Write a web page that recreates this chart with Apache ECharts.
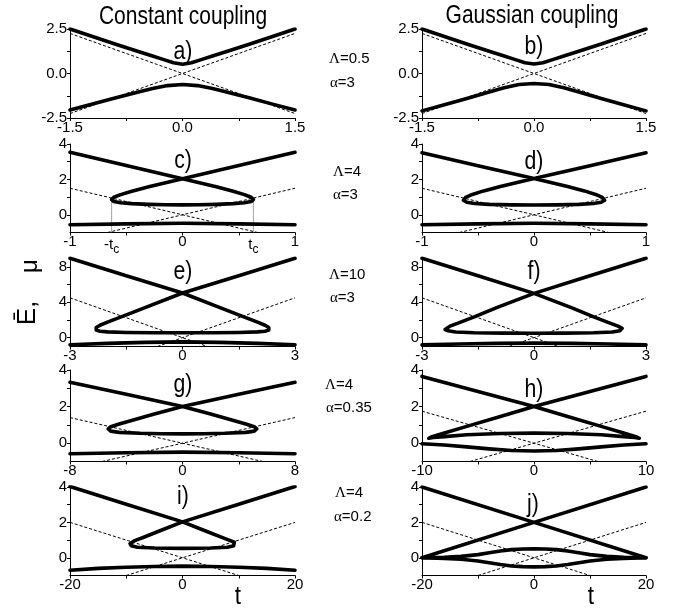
<!DOCTYPE html>
<html>
<head>
<meta charset="utf-8">
<script src="https://cdn.jsdelivr.net/npm/echarts@6/dist/echarts.min.js"></script>
<style>html,body{margin:0;background:#fff}#main{width:678px;height:612px}</style>
</head>
<body>
<div id="main"></div>
<script>
// panel a) / b): Lambda=0.5, alpha=3
var upperA = [[-1.5,2.5],[-1.2,2.08],[-0.9,1.66],[-0.6,1.25],[-0.4,0.98],[-0.25,0.78],[-0.12,0.6],[0,0.52],[0.12,0.6],[0.25,0.78],[0.4,0.98],[0.6,1.25],[0.9,1.66],[1.2,2.08],[1.5,2.5]];
var lowerA = [[-1.5,-2.05],[-1.2,-1.72],[-0.9,-1.38],[-0.6,-1.05],[-0.4,-0.84],[-0.2,-0.68],[0,-0.62],[0.2,-0.68],[0.4,-0.84],[0.6,-1.05],[0.9,-1.38],[1.2,-1.72],[1.5,-2.05]];
var upperB = [[-1.5,2.5],[-1.2,2.08],[-0.9,1.66],[-0.6,1.25],[-0.4,0.98],[-0.25,0.78],[-0.12,0.6],[0,0.53],[0.12,0.6],[0.25,0.78],[0.4,0.98],[0.6,1.25],[0.9,1.66],[1.2,2.08],[1.5,2.5]];
var lowerB = [[-1.5,-2.1],[-1.2,-1.76],[-0.9,-1.4],[-0.6,-1.04],[-0.4,-0.8],[-0.2,-0.62],[0,-0.56],[0.2,-0.62],[0.4,-0.8],[0.6,-1.04],[0.9,-1.4],[1.2,-1.76],[1.5,-2.1]];

// panel c) / d): Lambda=4, alpha=3
var loopC = [[-1,3.53],[-0.5,2.78],[0,2.03],[0.3,1.58],[0.45,1.33],[0.55,1.14],[0.61,0.99],[0.63,0.86],[0.61,0.75],[0.55,0.68],[0.45,0.63],[0.3,0.59],[0.15,0.57],[0,0.56],[-0.15,0.57],[-0.3,0.59],[-0.45,0.63],[-0.55,0.68],[-0.61,0.75],[-0.63,0.86],[-0.61,0.99],[-0.55,1.14],[-0.45,1.33],[-0.3,1.58],[0,2.03],[0.5,2.78],[1,3.53]];
var bottomC = [[-1,-0.56],[-0.5,-0.51],[0,-0.48],[0.5,-0.51],[1,-0.56]];
var tcLinesC = [[[-0.63,0.86],[-0.63,-1]],[[0.63,0.86],[0.63,-1]]];
var loopD = [[-1,3.5],[-0.5,2.77],[0,2.05],[0.3,1.6],[0.45,1.35],[0.55,1.15],[0.61,0.98],[0.63,0.82],[0.6,0.71],[0.53,0.64],[0.4,0.59],[0.2,0.56],[0,0.55],[-0.2,0.56],[-0.4,0.59],[-0.53,0.64],[-0.6,0.71],[-0.63,0.82],[-0.61,0.98],[-0.55,1.15],[-0.45,1.35],[-0.3,1.6],[0,2.05],[0.5,2.77],[1,3.5]];
var bottomD = [[-1,-0.56],[-0.5,-0.51],[0,-0.48],[0.5,-0.51],[1,-0.56]];

// panel e) / f): Lambda=10, alpha=3
var loopE = [[-3,8.97],[-1.5,7.0],[0,5.05],[1,3.4],[1.6,2.4],[2.0,1.75],[2.2,1.4],[2.3,1.15],[2.33,1.0],[2.3,0.85],[2.2,0.73],[2.0,0.65],[1.5,0.59],[0.8,0.56],[0,0.55],[-0.8,0.56],[-1.5,0.59],[-2.0,0.65],[-2.2,0.73],[-2.3,0.85],[-2.33,1.0],[-2.3,1.15],[-2.2,1.4],[-2.0,1.75],[-1.6,2.4],[-1,3.4],[0,5.05],[1.5,7.0],[3,8.97]];
var bottomE = [[-3,-0.8],[-2,-0.65],[-1,-0.53],[0,-0.48],[1,-0.53],[2,-0.65],[3,-0.8]];
var loopF = [[-3,8.97],[-1.5,7.0],[0,5.0],[1,3.4],[1.6,2.35],[2.0,1.7],[2.25,1.3],[2.36,1.05],[2.38,0.92],[2.3,0.78],[2.1,0.63],[1.6,0.55],[0.8,0.51],[0,0.5],[-0.8,0.51],[-1.6,0.55],[-2.1,0.63],[-2.3,0.78],[-2.38,0.92],[-2.36,1.05],[-2.25,1.3],[-2.0,1.7],[-1.6,2.35],[-1,3.4],[0,5.0],[1.5,7.0],[3,8.97]];
var bottomF = [[-3,-0.82],[-2,-0.72],[-1,-0.65],[0,-0.62],[1,-0.65],[2,-0.72],[3,-0.82]];

// panel g) / h): Lambda=4, alpha=0.35
var loopG = [[-8,3.33],[-4,2.67],[0,2.0],[2,1.6],[3.5,1.27],[4.5,1.05],[5.1,0.9],[5.28,0.78],[5.1,0.66],[4.5,0.59],[3,0.54],[1.5,0.52],[0,0.51],[-1.5,0.52],[-3,0.54],[-4.5,0.59],[-5.1,0.66],[-5.28,0.78],[-5.1,0.9],[-4.5,1.05],[-3.5,1.27],[-2,1.6],[0,2.0],[4,2.67],[8,3.33]];
var bottomG = [[-8,-0.58],[-4,-0.52],[0,-0.49],[4,-0.52],[8,-0.58]];
var loopH = [[-10,3.65],[-5,2.82],[0,2.0],[3,1.46],[6,0.92],[8,0.56],[9.1,0.36],[9.4,0.27],[9,0.31],[8,0.36],[6,0.46],[3,0.53],[0,0.55],[-3,0.53],[-6,0.46],[-8,0.36],[-9,0.31],[-9.4,0.27],[-9.1,0.36],[-8,0.56],[-6,0.92],[-3,1.46],[0,2.0],[5,2.82],[10,3.65]];
var bottomH = [[-10,-0.03],[-8,-0.1],[-6,-0.2],[-4,-0.31],[-2,-0.4],[0,-0.43],[2,-0.4],[4,-0.31],[6,-0.2],[8,-0.1],[10,-0.03]];

// panel i) / j): Lambda=4, alpha=0.2
var loopI = [[-20,4.03],[-10,3.03],[0,2.03],[4,1.53],[7,1.15],[8.5,0.97],[9.2,0.88],[9.33,0.8],[9.1,0.68],[8,0.6],[5,0.55],[0,0.53],[-5,0.55],[-8,0.6],[-9.1,0.68],[-9.33,0.8],[-9.2,0.88],[-8.5,0.97],[-7,1.15],[-4,1.53],[0,2.03],[10,3.03],[20,4.03]];
var bottomI = [[-20,-0.7],[-15,-0.6],[-10,-0.53],[-5,-0.49],[0,-0.47],[5,-0.49],[10,-0.53],[15,-0.6],[20,-0.7]];
var loopJ = [[-20,4],[0,2],[20,0],[16,0.03],[13,0.08],[10,0.18],[8,0.28],[6,0.38],[4,0.46],[2,0.5],[0,0.51],[-2,0.5],[-4,0.46],[-6,0.38],[-8,0.28],[-10,0.18],[-13,0.08],[-16,0.03],[-20,0],[0,2],[20,4]];
var bottomJ = [[-20,0],[-16,-0.03],[-13,-0.08],[-10,-0.18],[-8,-0.28],[-6,-0.38],[-4,-0.46],[-2,-0.5],[0,-0.51],[2,-0.5],[4,-0.46],[6,-0.38],[8,-0.28],[10,-0.18],[13,-0.08],[16,-0.03],[20,0]];

// dotted diabatic lines, two per panel
var dashAB = [[[-1.5,2.25],[1.5,-2.25]],[[-1.5,-2.25],[1.5,2.25]]];
var dashCD = [[[-1,1.5],[0.667,-1]],[[-0.667,-1],[1,1.5]]];
var dashEF = [[[-3,4.5],[0.667,-1]],[[-0.667,-1],[3,4.5]]];
var dashG = [[[-8,1.4],[5.71,-1]],[[-5.71,-1],[8,1.4]]];
var dashH = [[[-10,1.75],[5.71,-1]],[[-5.71,-1],[10,1.75]]];
var dashIJ = [[[-20,2],[10,-1]],[[-10,-1],[20,2]]];

var panelNames = ['a)','b)','c)','d)','e)','f)','g)','h)','i)','j)'];
var lambdaText = ['0.5','4','10','4','4'];
var alphaText = ['3','3','3','0.35','0.2'];

var xRanges = [[-1.5,1.5],[-1.5,1.5],[-1,1],[-1,1],[-3,3],[-3,3],[-8,8],[-10,10],[-20,20],[-20,20]];
var yRanges = [[-2.5,2.5],[-2.5,2.5],[-1,4],[-1,4],[-1,9],[-1,9],[-1,4],[-1,4],[-1,4],[-1,4]];
var xLabels = [[-1.5,0,1.5],[-1.5,0,1.5],[-1,-0.63,0,0.63,1],[-1,0,1],[-3,0,3],[-3,0,3],[-8,0,8],[-10,0,10],[-20,0,20],[-20,0,20]];
var xTicks = [[-1.5,-0.75,0,0.75,1.5],[-1.5,-0.75,0,0.75,1.5],[-1,-0.5,0,0.5,1],[-1,-0.5,0,0.5,1],[-3,-1.5,0,1.5,3],[-3,-1.5,0,1.5,3],[-8,-4,0,4,8],[-10,-5,0,5,10],[-20,-10,0,10,20],[-20,-10,0,10,20]];
var yLabels = [[-2.5,0,2.5],[-2.5,0,2.5],[0,2,4],[0,2,4],[0,4,8],[0,4,8],[0,2,4],[0,2,4],[0,2,4],[0,2,4]];
var yTicks = [[-2.5,-1.25,0,1.25,2.5],[-2.5,-1.25,0,1.25,2.5],[0,1,2,3,4],[0,1,2,3,4],[0,2,4,6,8],[0,2,4,6,8],[0,1,2,3,4],[0,1,2,3,4],[0,1,2,3,4],[0,1,2,3,4]];

var panels = [
  {thick: [upperA, lowerA], dash: dashAB},
  {thick: [upperB, lowerB], dash: dashAB},
  {thick: [loopC, bottomC], dash: dashCD, dotted: tcLinesC},
  {thick: [loopD, bottomD], dash: dashCD},
  {thick: [loopE, bottomE], dash: dashEF},
  {thick: [loopF, bottomF], dash: dashEF},
  {thick: [loopG, bottomG], dash: dashG},
  {thick: [loopH, bottomH], dash: dashH},
  {thick: [loopI, bottomI], dash: dashIJ},
  {thick: [loopJ, bottomJ], dash: dashIJ}
];

// layout
var FONT = '"Liberation Sans",Arial,sans-serif';
var SERIF = '"Liberation Serif","Times New Roman",serif';
var colLeft = [70, 422], colWidth = [225, 224];
var rowTop = [29, 144, 258, 370, 487], rowHeight = [89, 88.5, 88.5, 91.5, 88.5];
var letterPos = [[183,52],[534,47],[183,161],[534,162],[183,272],[534,272],[183,385],[534,390],[183,497],[533,505]];
var paramPos = [[329,59,330,83],[333,172,333,195],[329,275,330,298],[325,385,326,408],[335,493,334,517]];

var chart = echarts.init(document.getElementById('main'));
var grids = [], xAxes = [], yAxes = [], series = [], graphics = [];

function fmt(row) {
  return function (v) {
    if (row === 0) return v.toFixed(1);
    if (v === -0.63) return '{t|-t}{s|c}';
    if (v === 0.63) return '{t|t}{s|c}';
    return String(v);
  };
}

function label(x, y, text, size, sx, extra) {
  var g = {type: 'text', x: x, y: y, scaleX: sx,
    style: {text: text, font: size + 'px ' + FONT, fill: '#000', align: 'center', verticalAlign: 'middle'}};
  if (extra) for (var k in extra) g[k] = extra[k];
  return g;
}

for (var i = 0; i < 10; i++) {
  var row = Math.floor(i / 2), col = i % 2;
  grids.push({left: colLeft[col], width: colWidth[col], top: rowTop[row], height: rowHeight[row]});
  xAxes.push({
    gridIndex: i, type: 'value', min: xRanges[i][0], max: xRanges[i][1],
    axisLine: {show: true, onZero: false, lineStyle: {color: '#000', width: 1}},
    axisTick: {show: true, customValues: xTicks[i], length: 3, lineStyle: {color: '#000'}},
    axisLabel: {customValues: xLabels[i], formatter: fmt(row), color: '#000', fontSize: 15, margin: 2,
      fontFamily: FONT,
      rich: {t: {fontSize: 15, fontFamily: FONT, color: '#000'}, s: {fontSize: 12, fontFamily: FONT, color: '#000', padding: [9, 0, 0, 0]}}},
    splitLine: {show: false}
  });
  yAxes.push({
    gridIndex: i, type: 'value', min: yRanges[i][0], max: yRanges[i][1],
    axisLine: {show: true, onZero: false, lineStyle: {color: '#000', width: 1}},
    axisTick: {show: true, customValues: yTicks[i], length: 3, lineStyle: {color: '#000'}},
    axisLabel: {customValues: yLabels[i], formatter: fmt(row === 0 ? 0 : 1), color: '#000', fontSize: 15, margin: 3, fontFamily: FONT},
    splitLine: {show: false}
  });
  var p = panels[i];
  p.dash.forEach(function (d) {
    series.push({type: 'line', xAxisIndex: i, yAxisIndex: i, data: d, showSymbol: false, silent: true,
      lineStyle: {color: '#000', width: 1, type: [3, 2]}, z: 2});
  });
  if (p.dotted) {
    p.dotted.forEach(function (d) {
      series.push({type: 'line', xAxisIndex: i, yAxisIndex: i, data: d, showSymbol: false, silent: true,
        lineStyle: {color: '#444', width: 1, type: [1, 1]}, z: 2});
    });
  }
  p.thick.forEach(function (d) {
    series.push({type: 'line', xAxisIndex: i, yAxisIndex: i, data: d, showSymbol: false, silent: true,
      lineStyle: {color: '#000', width: 3.6, cap: 'round', join: 'round'}, z: 3});
  });
  graphics.push(label(letterPos[i][0], letterPos[i][1], panelNames[i], 25, 0.85));
}

for (var r = 0; r < 5; r++) {
  graphics.push({type: 'text', x: paramPos[r][0], y: paramPos[r][1],
    style: {text: '{g|Λ}=' + lambdaText[r], font: '15px ' + FONT, fill: '#000', verticalAlign: 'middle',
      rich: {g: {fontFamily: SERIF, fontSize: 15, fill: '#000'}}}});
  graphics.push({type: 'text', x: paramPos[r][2], y: paramPos[r][3],
    style: {text: '{g|α}=' + alphaText[r], font: '15px ' + FONT, fill: '#000', verticalAlign: 'middle',
      rich: {g: {fontFamily: SERIF, fontSize: 15, fill: '#000'}}}});
}

graphics.push(label(183, 17, 'Constant coupling', 25, 0.84));
graphics.push(label(532, 16, 'Gaussian coupling', 25, 0.84));
graphics.push(label(238, 597, 't', 25, 0.9));
graphics.push(label(591, 597, 't', 25, 0.9));
graphics.push(label(28, 313, 'Ē,', 26, 1, {rotation: Math.PI / 2}));
graphics.push(label(30, 266, 'μ', 24, 1, {rotation: Math.PI / 2}));

chart.setOption({
  animation: false,
  backgroundColor: '#fff',
  grid: grids,
  xAxis: xAxes,
  yAxis: yAxes,
  series: series,
  graphic: graphics
});
</script>
</body>
</html>
